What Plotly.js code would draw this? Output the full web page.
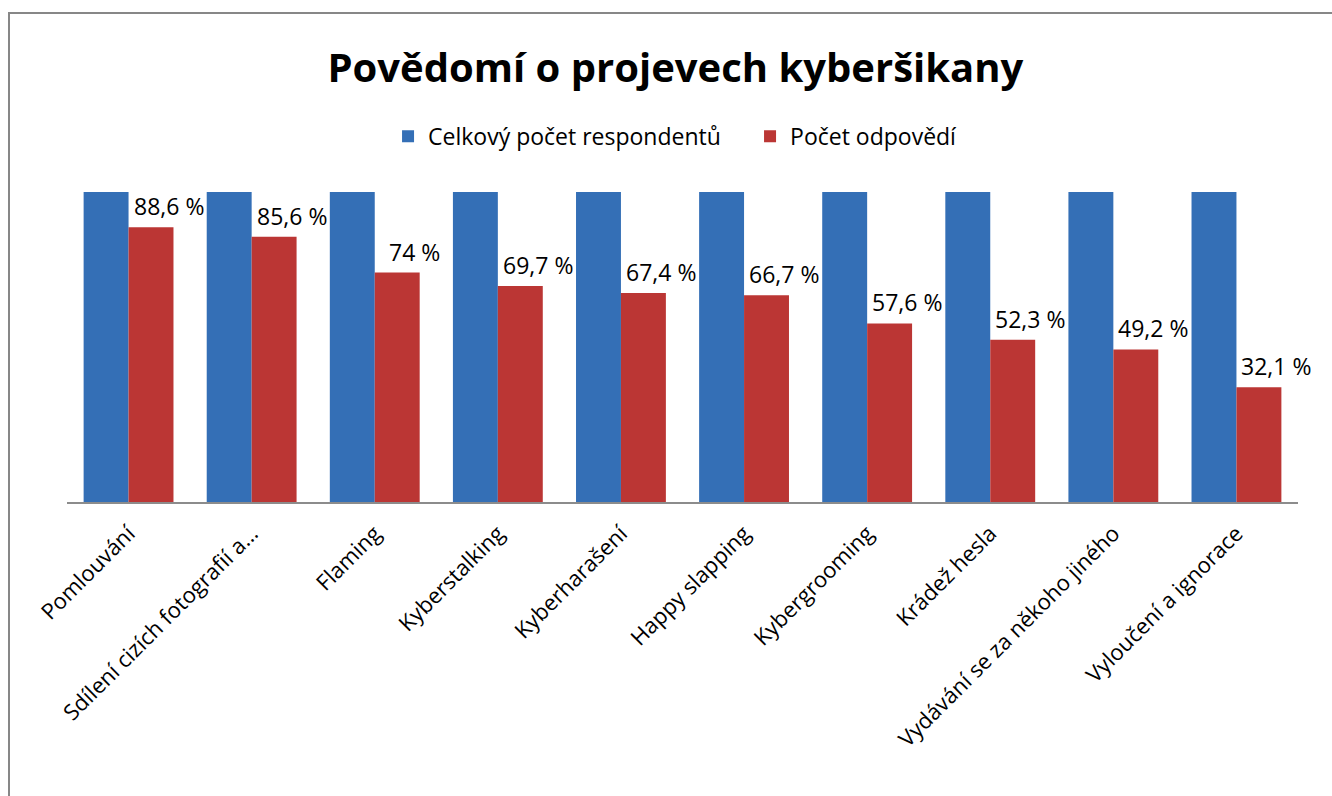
<!DOCTYPE html>
<html>
<head>
<meta charset="utf-8">
<script src="https://cdn.plot.ly/plotly-3.0.1.min.js"></script>
<style>
  html, body { margin: 0; padding: 0; background: #fff; overflow: hidden; }
  #frame { position: absolute; left: 8px; top: 12px; width: 1400px; height: 900px; border: 2px solid #878787; box-sizing: border-box; }
  #chart { position: absolute; left: 0; top: 0; width: 1332px; height: 796px; }
</style>
</head>
<body>
<div id="frame"></div>
<div id="chart"></div>
<script>
const categories = [
  "Pomlouvání",
  "Sdílení cizích fotografií a…",
  "Flaming",
  "Kyberstalking",
  "Kyberharašení",
  "Happy slapping",
  "Kybergrooming",
  "Krádež hesla",
  "Vydávání se za někoho jiného",
  "Vyloučení a ignorace"
];
const totalRespondents = [100, 100, 100, 100, 100, 100, 100, 100, 100, 100];
// bar heights as drawn in the picture (the last bar is drawn taller than its label says)
const answers = [88.6, 85.6, 74, 69.7, 67.4, 66.7, 57.6, 52.3, 49.2, 37];
const answerLabels = ["88,6 %", "85,6 %", "74 %", "69,7 %", "67,4 %", "66,7 %", "57,6 %", "52,3 %", "49,2 %", "32,1 %"];

const font = "Open Sans, Noto Sans, sans-serif";

const traces = [
  {
    type: "bar",
    name: "Celkový počet respondentů",
    x: categories,
    y: totalRespondents,
    marker: { color: "#346fb6" },
    hoverinfo: "skip"
  },
  {
    type: "bar",
    name: "Počet odpovědí",
    x: categories,
    y: answers,
    marker: { color: "#bb3634" },
    hoverinfo: "skip"
  }
];

const annotations = categories.map((c, i) => ({
  x: c,
  y: answers[i],
  xref: "x",
  yref: "y",
  text: answerLabels[i],
  showarrow: false,
  xanchor: "center",
  yanchor: "bottom",
  xshift: 40,
  yshift: 3,
  font: { family: font, size: 23, color: "#000" }
}));

const layout = {
  width: 1332,
  height: 796,
  paper_bgcolor: "rgba(0,0,0,0)",
  plot_bgcolor: "rgba(0,0,0,0)",
  margin: { l: 67, r: 34, t: 192, b: 294, autoexpand: false },
  barmode: "group",
  bargap: 0.27,
  bargroupgap: 0,
  title: {
    text: "<b>Povědomí o projevech kyberšikany</b>",
    font: { family: font, size: 40, color: "#000" },
    x: 0.507,
    xanchor: "center",
    y: 0.915,
    yanchor: "middle"
  },
  showlegend: true,
  legend: {
    orientation: "h",
    x: 0.2608,
    xanchor: "left",
    y: 1.18,
    yanchor: "middle",
    font: { family: font, size: 23, color: "#000" },
    itemwidth: 30,
    entrywidth: 317
  },
  xaxis: {
    type: "category",
    range: [-0.5, 9.5],
    tickangle: -45,
    tickfont: { family: font, size: 22, color: "#000" },
    ticklabelstandoff: 8,
    showline: true,
    linecolor: "#8c8c8c",
    linewidth: 2,
    ticks: "",
    showgrid: false,
    automargin: false
  },
  yaxis: {
    range: [0, 100],
    visible: false,
    showgrid: false,
    zeroline: false,
    fixedrange: true
  },
  annotations: annotations
};

Plotly.newPlot("chart", traces, layout, { displayModeBar: false, staticPlot: true });
</script>
</body>
</html>
